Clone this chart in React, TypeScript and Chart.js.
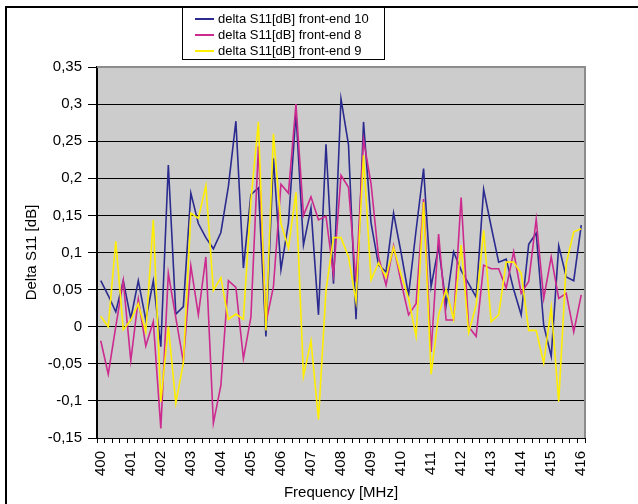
import React, { useEffect, useRef } from "react";
import { Chart, registerables } from "chart.js";

Chart.register(...registerables);

// Frequency points (MHz), 0.25 MHz spacing
const frequencies = [
  400, 400.25, 400.5, 400.75, 401, 401.25, 401.5, 401.75,
  402, 402.25, 402.5, 402.75, 403, 403.25, 403.5, 403.75,
  404, 404.25, 404.5, 404.75, 405, 405.25, 405.5, 405.75,
  406, 406.25, 406.5, 406.75, 407, 407.25, 407.5, 407.75,
  408, 408.25, 408.5, 408.75, 409, 409.25, 409.5, 409.75,
  410, 410.25, 410.5, 410.75, 411, 411.25, 411.5, 411.75,
  412, 412.25, 412.5, 412.75, 413, 413.25, 413.5, 413.75,
  414, 414.25, 414.5, 414.75, 415, 415.25, 415.5, 415.75,
  416,
];

// delta S11 [dB], front-end 10
const frontEnd10 = [
  0.062, 0.042, 0.020, 0.062, 0.011, 0.062, 0.009, 0.062,
  -0.027, 0.218, 0.017, 0.027, 0.180, 0.139, 0.120, 0.105,
  0.127, 0.189, 0.277, 0.079, 0.178, 0.187, -0.013, 0.227,
  0.077, 0.140, 0.288, 0.110, 0.160, 0.016, 0.246, 0.058,
  0.307, 0.245, 0.010, 0.276, 0.140, 0.083, 0.074, 0.153,
  0.100, 0.043, 0.130, 0.213, 0.054, 0.108, 0.029, 0.101,
  0.076, 0.058, 0.040, 0.185, 0.135, 0.087, 0.091, 0.050,
  0.016, 0.111, 0.126, 0.002, -0.040, 0.109, 0.067, 0.062,
  0.137,
];

// delta S11 [dB], front-end 8
const frontEnd8 = [
  -0.019, -0.064, 0.000, 0.062, -0.046, 0.037, -0.026, 0.007,
  -0.137, 0.072, 0.012, -0.047, 0.082, 0.016, 0.094, -0.130,
  -0.079, 0.062, 0.053, -0.043, 0.013, 0.243, 0.005, 0.054,
  0.192, 0.180, 0.300, 0.150, 0.175, 0.144, 0.149, 0.070,
  0.204, 0.188, 0.060, 0.252, 0.193, 0.094, 0.056, 0.109,
  0.060, 0.016, 0.031, 0.172, -0.034, 0.125, 0.009, 0.009,
  0.174, 0.000, -0.013, 0.083, 0.078, 0.078, 0.052, 0.101,
  0.045, 0.061, 0.145, 0.038, 0.094, 0.038, 0.045, -0.007,
  0.043,
];

// delta S11 [dB], front-end 9
const frontEnd9 = [
  0.014, 0.000, 0.115, -0.004, 0.009, 0.031, -0.007, 0.144,
  -0.101, 0.000, -0.103, -0.049, 0.153, 0.146, 0.190, 0.049,
  0.066, 0.010, 0.017, 0.010, 0.170, 0.276, -0.005, 0.260,
  0.139, 0.106, 0.181, -0.067, -0.019, -0.125, 0.049, 0.120,
  0.120, 0.094, 0.034, 0.231, 0.063, 0.086, 0.067, 0.107,
  0.070, 0.038, -0.013, 0.168, -0.064, 0.016, 0.050, 0.010,
  0.110, -0.008, 0.029, 0.130, 0.007, 0.016, 0.087, 0.087,
  0.072, -0.005, -0.005, -0.049, 0.026, -0.101, 0.085, 0.128,
  0.132,
];

const seriesNames = [
  "delta S11[dB] front-end 10",
  "delta S11[dB] front-end 8",
  "delta S11[dB] front-end 9",
];
const seriesColors = ["#2b2b8f", "#cc2a8e", "#ffee00"];

const FONT = "'Liberation Sans', Arial, sans-serif";

const decorations = {
  id: "decorations",
  beforeDraw(chart: any) {
    const { ctx, chartArea: a, width, height } = chart;
    ctx.save();
    ctx.fillStyle = "#ffffff";
    ctx.fillRect(0, 0, width, height);
    ctx.fillStyle = "#cccccc";
    ctx.fillRect(a.left, a.top, a.right - a.left, a.bottom - a.top);
    // outer frame
    ctx.fillStyle = "#000000";
    ctx.fillRect(5, 6, width - 5, 2);
    ctx.fillRect(5, 6, 2, height - 6);
    ctx.restore();
  },
  afterDraw(chart: any) {
    const { ctx, chartArea: a } = chart;
    ctx.save();
    // plot area edge
    ctx.strokeStyle = "#8c8c8c";
    ctx.lineWidth = 2;
    ctx.beginPath();
    ctx.moveTo(a.left, a.top);
    ctx.lineTo(a.right, a.top);
    ctx.lineTo(a.right, a.bottom);
    ctx.stroke();

    // legend box
    const bx = 182, by = 7, bw = 202, bh = 52;
    ctx.fillStyle = "#ffffff";
    ctx.fillRect(bx, by, bw, bh);
    ctx.strokeStyle = "#000000";
    ctx.lineWidth = 1;
    ctx.strokeRect(bx + 0.5, by + 0.5, bw, bh);
    ctx.font = `13px ${FONT}`;
    ctx.textBaseline = "middle";
    ctx.textAlign = "left";
    seriesNames.forEach((name, i) => {
      const y = 19 + i * 16;
      ctx.strokeStyle = seriesColors[i];
      ctx.lineWidth = 2;
      ctx.beginPath();
      ctx.moveTo(195, y);
      ctx.lineTo(214, y);
      ctx.stroke();
      ctx.fillStyle = "#000000";
      ctx.fillText(name, 218, y);
    });
    ctx.restore();
  },
};

export default function App() {
  const canvasRef = useRef<HTMLCanvasElement | null>(null);

  useEffect(() => {
    const canvas = canvasRef.current;
    if (!canvas) return;
    Chart.defaults.font.family = FONT;
    Chart.defaults.color = "#000000";

    const data = [frontEnd10, frontEnd8, frontEnd9];
    const chart = new Chart(canvas, {
      type: "line",
      data: {
        labels: frequencies,
        datasets: data.map((values, i) => ({
          label: seriesNames[i],
          data: values,
          borderColor: seriesColors[i],
          backgroundColor: seriesColors[i],
          borderWidth: 1.6,
          pointRadius: 0,
          tension: 0,
          fill: false,
          order: 2 - i,
        })),
      },
      options: {
        responsive: false,
        animation: false,
        devicePixelRatio: 1,
        layout: { padding: { top: 67, right: 53, bottom: 0, left: 0 } },
        plugins: {
          legend: { display: false },
          tooltip: { enabled: false },
        },
        scales: {
          x: {
            type: "category",
            offset: true,
            grid: {
              drawOnChartArea: false,
              offset: true,
              tickLength: 5,
              color: "#000000",
            },
            border: { color: "#000000", width: 1 },
            ticks: {
              autoSkip: false,
              maxRotation: 90,
              minRotation: 90,
              padding: 8,
              font: { size: 15 },
              color: "#000000",
              callback: (_v: any, index: number) => {
                const f = frequencies[index];
                return Number.isInteger(f) ? String(f) : "";
              },
            },
            title: {
              display: true,
              text: "Frequency [MHz]",
              font: { size: 15 },
              color: "#000000",
              padding: { top: 0, bottom: 2 },
            },
            afterFit: (scale: any) => {
              scale.height = 66;
            },
          },
          y: {
            min: -0.15,
            max: 0.35,
            grid: {
              color: "#000000",
              lineWidth: 1,
              tickLength: 9,
            },
            border: { color: "#000000", width: 2 },
            ticks: {
              stepSize: 0.05,
              padding: 6,
              font: { size: 15 },
              color: "#000000",
              callback: (v: any) => {
                const r = Math.round(Number(v) * 100) / 100;
                return (r === 0 ? "0" : String(r)).replace(".", ",");
              },
            },
            title: {
              display: true,
              text: "Delta S11 [dB]",
              font: { size: 15 },
              color: "#000000",
              padding: { top: 23, bottom: 0 },
            },
            afterFit: (scale: any) => {
              scale.width = 97;
            },
          },
        },
      },
      plugins: [decorations],
    });
    return () => chart.destroy();
  }, []);

  return (
    <div style={{ position: "fixed", left: 0, top: 0, width: 638, height: 504, background: "#fff" }}>
      <canvas ref={canvasRef} width={638} height={504} style={{ width: 638, height: 504, display: "block" }} />
    </div>
  );
}
